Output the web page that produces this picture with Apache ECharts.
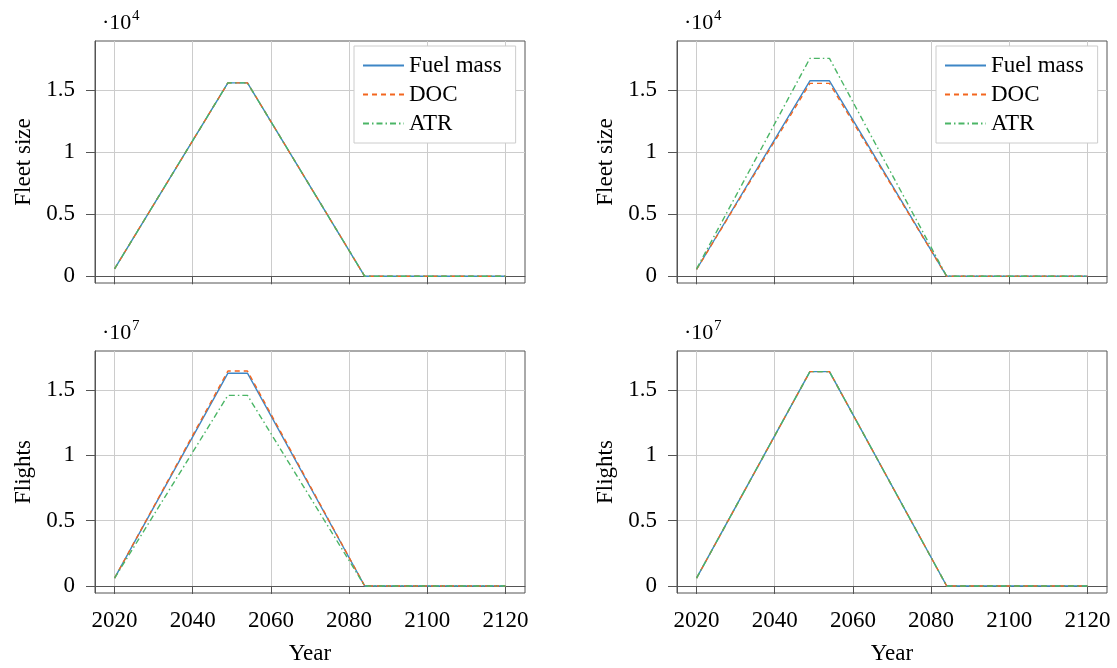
<!DOCTYPE html>
<html>
<head>
<meta charset="utf-8">
<script src="https://cdn.jsdelivr.net/npm/echarts@6/dist/echarts.min.js"></script>
<style>
html,body{margin:0;padding:0;background:#fff;}
#c{width:1117px;height:668px;}
</style>
</head>
<body>
<div id="c"></div>
<script>
// ---- data ----
const years = [2020, 2049, 2054, 2084, 2120];
const xTicks = [2020, 2040, 2060, 2080, 2100, 2120];
const yTicks = [0, 0.5, 1, 1.5];
const seriesNames = ['Fuel mass', 'DOC', 'ATR'];

// Fleet size (aircraft), left panel
const fleetL_fuel = [600, 15600, 15600, 0, 0];
const fleetL_doc  = [600, 15600, 15600, 0, 0];
const fleetL_atr  = [600, 15600, 15600, 0, 0];
// Fleet size, right panel
const fleetR_fuel = [550, 15770, 15770, 0, 0];
const fleetR_doc  = [550, 15560, 15560, 0, 0];
const fleetR_atr  = [600, 17580, 17580, 0, 0];
// Flights, left panel
const flightsL_fuel = [600000, 16300000, 16300000, 0, 0];
const flightsL_doc  = [600000, 16470000, 16470000, 0, 0];
const flightsL_atr  = [600000, 14600000, 14600000, 0, 0];
// Flights, right panel
const flightsR_fuel = [600000, 16420000, 16420000, 0, 0];
const flightsR_doc  = [600000, 16420000, 16420000, 0, 0];
const flightsR_atr  = [600000, 16420000, 16420000, 0, 0];

const colors = ['#3d86c6', '#f3661f', '#4bb566'];
const dashes = ['solid', [5, 4], [6, 3, 1.5, 3]];
const FONT = '"Liberation Serif", "DejaVu Serif", serif';

const panels = [
  {left: 95,  top: 41,  name: 'Fleet size', scale: 1e4, exp: '4', ymin: -540, ymax: 18980, showX: false, data: [fleetL_fuel, fleetL_doc, fleetL_atr], legend: true},
  {left: 677, top: 41,  name: 'Fleet size', scale: 1e4, exp: '4', ymin: -540, ymax: 18980, showX: false, data: [fleetR_fuel, fleetR_doc, fleetR_atr], legend: true},
  {left: 95,  top: 351, name: 'Flights', scale: 1e7, exp: '7', ymin: -536000, ymax: 18000000, showX: true, data: [flightsL_fuel, flightsL_doc, flightsL_atr], legend: false},
  {left: 677, top: 351, name: 'Flights', scale: 1e7, exp: '7', ymin: -536000, ymax: 18000000, showX: true, data: [flightsR_fuel, flightsR_doc, flightsR_atr], legend: false}
];
const W = 430, H = 242;

const grid = [], xAxis = [], yAxis = [], series = [], legend = [], graphic = [];
panels.forEach((p, i) => {
  grid.push({left: p.left, top: p.top, width: W, height: H, show: true,
    borderColor: '#555', borderWidth: 1, backgroundColor: 'transparent'});
  xAxis.push({
    type: 'value', gridIndex: i, min: 2015, max: 2125,
    name: p.showX ? 'Year' : '', nameLocation: 'middle', nameGap: 49,
    nameTextStyle: {fontFamily: FONT, fontSize: 23, color: '#000'},
    axisLine: {show: true, lineStyle: {color: '#555', width: 1}},
    axisTick: {show: true, inside: false, length: 8, lineStyle: {color: '#555'}, customValues: xTicks},
    axisLabel: {show: p.showX, margin: 16, fontFamily: FONT, fontSize: 23, color: '#000',
      customValues: xTicks, formatter: v => String(v)},
    splitLine: {show: true, lineStyle: {color: '#cccccc', width: 1}}
  });
  const yVals = yTicks.map(v => v * p.scale);
  yAxis.push({
    type: 'value', gridIndex: i, min: p.ymin, max: p.ymax,
    name: p.name, nameLocation: 'middle', nameGap: 60,
    nameTextStyle: {fontFamily: FONT, fontSize: 23, color: '#000'},
    axisLine: {show: true, lineStyle: {color: '#555', width: 1}},
    axisTick: {show: true, inside: false, length: 9, lineStyle: {color: '#555'}, customValues: yVals},
    axisLabel: {show: true, margin: 20, fontFamily: FONT, fontSize: 23, color: '#000',
      customValues: yVals, formatter: v => String(Math.round(v / p.scale * 10) / 10)},
    splitLine: {show: true, lineStyle: {color: '#cccccc', width: 1}}
  });
  seriesNames.forEach((n, k) => {
    series.push({
      name: n, type: 'line', xAxisIndex: i, yAxisIndex: i,
      data: years.map((y, j) => [y, p.data[k][j]]),
      symbol: 'none', showSymbol: false, animation: false,
      lineStyle: {color: colors[k], width: 1.4, type: dashes[k]},
      itemStyle: {color: colors[k]},
      z: 3 + k
    });
  });
  if (p.legend) {
    legend.push({
      left: p.left + 259, top: p.top + 5, orient: 'vertical',
      data: seriesNames, selectedMode: false,
      backgroundColor: '#fff', borderColor: '#cccccc', borderWidth: 1,
      padding: [8, 14, 8, 8], itemWidth: 41, itemHeight: 14, itemGap: 6,
      itemStyle: {opacity: 0},
      textStyle: {fontFamily: FONT, fontSize: 23, color: '#000', padding: [0, 0, 0, 0]}
    });
  }
  graphic.push({type: 'text', left: p.left + 7, top: p.top - 29,
    style: {text: '·10', font: '22px ' + FONT, fill: '#000'}});
  graphic.push({type: 'text', left: p.left + 37, top: p.top - 32,
    style: {text: p.exp, font: '15px ' + FONT, fill: '#000'}});
});

const chart = echarts.init(document.getElementById('c'), null, {renderer: 'canvas'});
chart.setOption({
  animation: false,
  backgroundColor: '#fff',
  grid, xAxis, yAxis, series, legend, graphic
});
</script>
</body>
</html>
